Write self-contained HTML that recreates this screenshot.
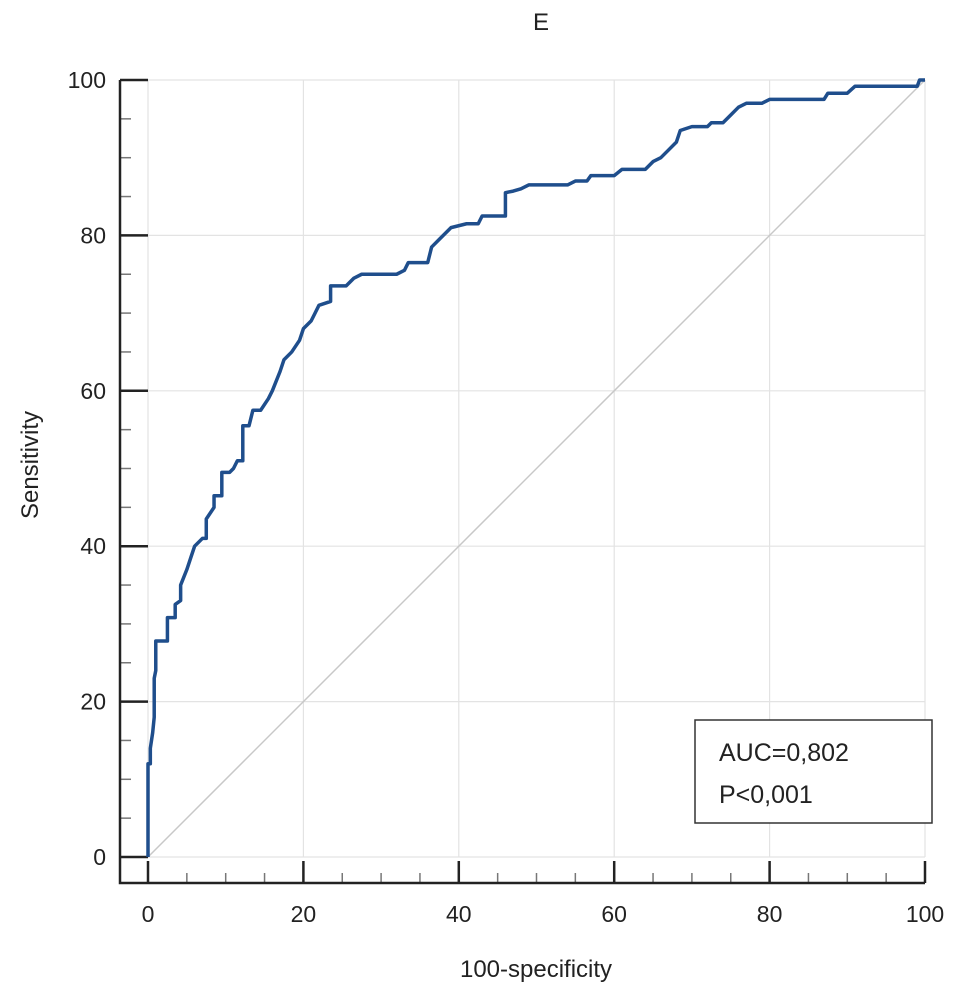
<!DOCTYPE html>
<html><head><meta charset="utf-8"><style>
body{margin:0;background:#fff;}
text{font-family:"Liberation Sans",sans-serif;fill:#222;}
</style></head><body>
<svg id="chart" width="969" height="1003" viewBox="0 0 969 1003" xmlns="http://www.w3.org/2000/svg">
<text x="541" y="30" font-size="24" text-anchor="middle">E</text>
<g id="grid"></g>
<g id="axes"></g>
<g id="series"></g>
<text transform="translate(38,465) rotate(-90)" font-size="24" text-anchor="middle">Sensitivity</text>
<text x="536" y="977" font-size="24" text-anchor="middle">100-specificity</text>
<g>
<rect x="695" y="720" width="237" height="103" fill="#fff" stroke="#333" stroke-width="1.5"/>
<text x="719" y="761" font-size="25">AUC=0,802</text>
<text x="719" y="803" font-size="25">P&lt;0,001</text>
</g>
</svg>
<script>
const fpr=[0,0,0.3,0.3,0.6,0.8,0.8,1.0,1.0,2.5,2.5,3.5,3.5,4.2,4.2,5,5.5,6,7,7.5,7.5,8.5,8.5,9.5,9.5,10.5,11,11.5,12.2,12.2,13,13.5,14.5,15.5,16,17,17.5,18.5,19.5,20,21,21.5,22,23.5,23.5,25.5,26.5,27.5,32,33,33.5,36,36.5,37.5,38,39,41,42.5,43,46,46,47,48,49,54,55,56.5,57,60,61,64,65,66,67,68,68.5,70,72,72.5,74,75,76,77,79,80,87,87.5,90,91,99,99.3,100];
const tpr=[0,12,12,14,16,18,23,24,27.8,27.8,30.8,30.8,32.5,33,35,37,38.5,40,41,41,43.5,45,46.5,46.5,49.5,49.5,50,51,51,55.5,55.5,57.5,57.5,59,60,62.5,64,65,66.5,68,69,70,71,71.5,73.5,73.5,74.5,75,75,75.5,76.5,76.5,78.5,79.5,80,81,81.5,81.5,82.5,82.5,85.5,85.7,86,86.5,86.5,87,87,87.7,87.7,88.5,88.5,89.5,90,91,92,93.5,94,94,94.5,94.5,95.5,96.5,97,97,97.5,97.5,98.3,98.3,99.2,99.2,100,100];
const xTicks=[0,20,40,60,80,100];
const yTicks=[0,20,40,60,80,100];
const NS='http://www.w3.org/2000/svg';
const sx=v=>148+v*7.77, sy=v=>857-v*7.77;
function mk(tag,attrs,parent){const e=document.createElementNS(NS,tag);for(const k in attrs)e.setAttribute(k,attrs[k]);document.getElementById(parent).appendChild(e);return e;}
xTicks.forEach(t=>{
  const g=mk('line',{x1:sx(t),x2:sx(t),y1:sy(0),y2:sy(100),stroke:'#e3e3e3','stroke-width':1.2},'grid');
  
  
  const tk=mk('line',{x1:sx(t),x2:sx(t),y1:883,y2:861,stroke:'#222','stroke-width':2.5},'axes');
  
  
  const lb=mk('text',{x:sx(t),y:922,'font-size':23,'text-anchor':'middle'},'axes');lb.textContent=t;
  
  
});
yTicks.forEach(t=>{
  const g=mk('line',{x1:sx(0),x2:sx(100),y1:sy(t),y2:sy(t),stroke:'#e3e3e3','stroke-width':1.2},'grid');
  
  
  const tk=mk('line',{x1:120,x2:148,y1:sy(t),y2:sy(t),stroke:'#222','stroke-width':2.5},'axes');
  
  
  const lb=mk('text',{x:106,y:sy(t)+8,'font-size':23,'text-anchor':'end'},'axes');lb.textContent=t;
  
  
});
for(let v=0;v<=100;v+=5){ if(v%20===0)continue;
  const a=mk('line',{x1:sx(v),x2:sx(v),y1:883,y2:873,stroke:'#777','stroke-width':1.5},'axes');
  
  
  const b=mk('line',{x1:120,x2:131,y1:sy(v),y2:sy(v),stroke:'#777','stroke-width':1.5},'axes');
  
  
}
const ax=mk('path',{d:'M120,'+sy(100)+' L120,883 L'+sx(100)+',883',fill:'none',stroke:'#222','stroke-width':2.5},'axes');


const diag=mk('line',{x1:sx(0),y1:sy(0),x2:sx(100),y2:sy(100),stroke:'#c8c8c8','stroke-width':1.5},'series');


const roc=mk('polyline',{points:fpr.map((f,i)=>sx(f)+','+sy(tpr[i])).join(' '),fill:'none',stroke:'#1f4e8c','stroke-width':3.5,'stroke-linejoin':'round'},'series');


</script>
</body></html>
